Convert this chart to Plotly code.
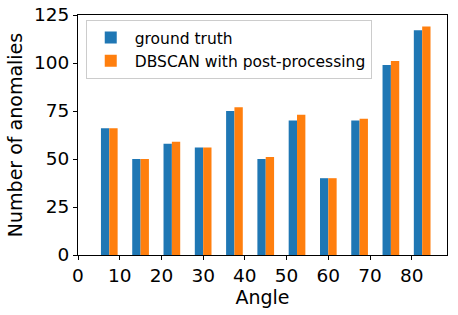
import plotly.graph_objects as go

angles = [7.5, 15, 22.5, 30, 37.5, 45, 52.5, 60, 67.5, 75, 82.5]
ground_truth = [66, 50, 58, 56, 75, 50, 70, 40, 70, 99, 117]
dbscan_post = [66, 50, 59, 56, 77, 51, 73, 40, 71, 101, 119]
x_ticks = [0, 10, 20, 30, 40, 50, 60, 70, 80]
y_ticks = [0, 25, 50, 75, 100, 125]

font = "DejaVu Sans"
fig = go.Figure()
fig.add_trace(go.Bar(x=[a - 1 for a in angles], y=ground_truth, width=2,
                     name="ground truth", marker=dict(color="#1f77b4", line=dict(width=0))))
fig.add_trace(go.Bar(x=[a + 1 for a in angles], y=dbscan_post, width=2,
                     name="DBSCAN with post-processing", marker=dict(color="#ff7f0e", line=dict(width=0))))

axis_common = dict(showline=True, linecolor="black", linewidth=1, mirror=True,
                   ticks="outside", ticklen=4, tickcolor="black", showgrid=False,
                   zeroline=False, automargin=False,
                   tickfont=dict(family=font, size=18.5, color="black"))
fig.update_layout(
    width=458, height=315,
    margin=dict(l=78, r=11, t=15, b=60),
    plot_bgcolor="white", paper_bgcolor="white",
    barmode="overlay", showlegend=True,
    xaxis=dict(range=[0, 88.45], tickvals=x_ticks, title=dict(text="Angle", font=dict(family=font, size=19, color="black"), standoff=4), **axis_common),
    yaxis=dict(range=[0, 125], tickvals=y_ticks, title=dict(text="Number of anomalies", font=dict(family=font, size=19, color="black"), standoff=6), **axis_common),
    legend=dict(x=0.021, y=0.979, xanchor="left", yanchor="top", itemwidth=38,
                bordercolor="#cccccc", borderwidth=1, bgcolor="rgba(255,255,255,0.8)",
                font=dict(family=font, size=15.5, color="black"), tracegroupgap=0),
)
fig.write_html("out.html", config={"displayModeBar": False},
               post_script="document.body.style.margin='0';")
